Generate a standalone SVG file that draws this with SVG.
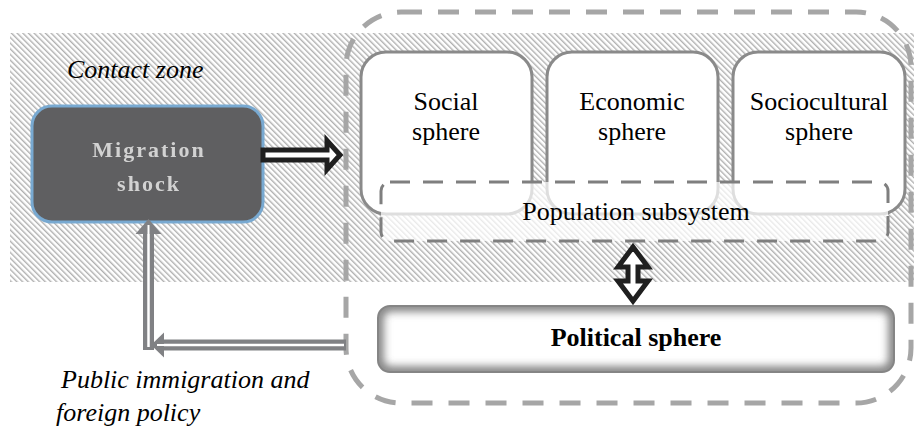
<svg xmlns="http://www.w3.org/2000/svg" width="914" height="432" viewBox="0 0 914 432" font-family="'Liberation Serif', 'Times New Roman', Times, serif">
<defs>
<pattern id="hatch" width="4" height="4" patternUnits="userSpaceOnUse" patternTransform="rotate(-45)">
<rect width="4" height="4" fill="#ffffff"/>
<rect width="1.4" height="4" fill="#b0b0b0"/>
</pattern>
<clipPath id="polclip"><rect x="378" y="306" width="516" height="66" rx="12"/></clipPath>
<filter id="soft" x="-5%" y="-30%" width="110%" height="160%">
<feGaussianBlur stdDeviation="4"/>
</filter>
<filter id="glow" x="-10%" y="-20%" width="120%" height="140%">
<feGaussianBlur stdDeviation="0.5"/>
</filter>
</defs>
<style>
text{font-family:'Liberation Serif','Times New Roman',Times,serif;}
.lbl{font-size:26px;fill:#000;text-anchor:middle;}
.it{font-size:26px;font-style:italic;fill:#000;}
.sphere{fill:#ffffff;stroke:#8a8a8a;stroke-width:3;}
.gray{fill:none;stroke:#808184;stroke-width:11;}
.grayin{fill:none;stroke:#ffffff;stroke-width:2.5;}
</style>
<rect width="914" height="432" fill="#ffffff"/>
<rect id="contact-zone" x="10" y="33" width="904" height="249" fill="url(#hatch)"/>
<g id="contact-label"><text class="it" x="67" y="78">Contact zone</text></g>

<g id="system">
<rect x="346" y="12" width="565" height="391" rx="55" ry="55" fill="none" stroke="#a6a6a6" stroke-width="5" stroke-dasharray="21 16"/>
</g>

<g id="social">
<rect class="sphere" x="361" y="52" width="171" height="162" rx="25"/>
<text class="lbl" x="446" y="110">Social</text>
<text class="lbl" x="446" y="140">sphere</text>
</g>
<g id="economic">
<rect class="sphere" x="547" y="52" width="171" height="162" rx="25"/>
<text class="lbl" x="632" y="110">Economic</text>
<text class="lbl" x="632" y="140">sphere</text>
</g>
<g id="sociocultural">
<rect class="sphere" x="733" y="52" width="172" height="162" rx="25"/>
<text class="lbl" x="819" y="110">Sociocultural</text>
<text class="lbl" x="819" y="140">sphere</text>
</g>

<g id="population">
<rect x="381" y="182" width="507" height="59" rx="9" fill="#ffffff" fill-opacity="0.72" stroke="#7f7f7f" stroke-width="3" stroke-dasharray="20 13"/>
<text class="lbl" x="636" y="220">Population subsystem</text>
</g>

<g id="political">
<rect x="378" y="306" width="516" height="66" rx="12" fill="#ffffff"/>
<g clip-path="url(#polclip)">
<rect x="378" y="306" width="516" height="66" rx="12" fill="none" stroke="#7c7c7c" stroke-width="11" filter="url(#soft)"/>
</g>
<rect x="378" y="306" width="516" height="66" rx="12" fill="none" stroke="#858585" stroke-width="2"/>
<text class="lbl" x="636" y="346" font-weight="bold">Political sphere</text>
</g>

<g id="migration">
<rect x="32" y="106" width="231" height="116" rx="20" fill="#5f5f61" stroke="#78a9d1" stroke-width="3"/>
<g font-size="22" font-weight="bold" text-anchor="middle" letter-spacing="2" fill="#d2d2d2">
<text x="149" y="157" filter="url(#glow)">Migration</text>
<text x="149" y="191" filter="url(#glow)">shock</text>
</g>
</g>

<g id="connectors">
<polygon points="263,150 327,150 327,140.5 340,155 327,169.5 327,160 263,160" fill="#ffffff" stroke="#1f1f1f" stroke-width="5" stroke-linejoin="miter"/>
<polygon points="628,267 618,267 633,247 648,267 638,267 638,281 648,281 633,301 618,281 628,281" fill="#ffffff" stroke="#1f1f1f" stroke-width="5" stroke-linejoin="miter"/>
<path class="gray" d="M148.5,350 V232"/>
<path class="grayin" d="M148.5,347 V226"/>
<polygon points="135.5,234 161.5,234 148.5,219" fill="#808184"/>
<line x1="148.5" y1="234" x2="148.5" y2="225" stroke="#ffffff" stroke-width="2"/>
<path class="gray" d="M346,345 H162"/>
<path class="grayin" d="M344,345 H158"/>
<polygon points="164,332.5 164,357.5 151,345" fill="#808184"/>
<line x1="164" y1="345" x2="157" y2="345" stroke="#ffffff" stroke-width="2"/>
</g>

<g id="policy-label">
<text class="it" x="61" y="388">Public immigration and</text>
<text class="it" x="56" y="421">foreign policy</text>
</g>
</svg>
